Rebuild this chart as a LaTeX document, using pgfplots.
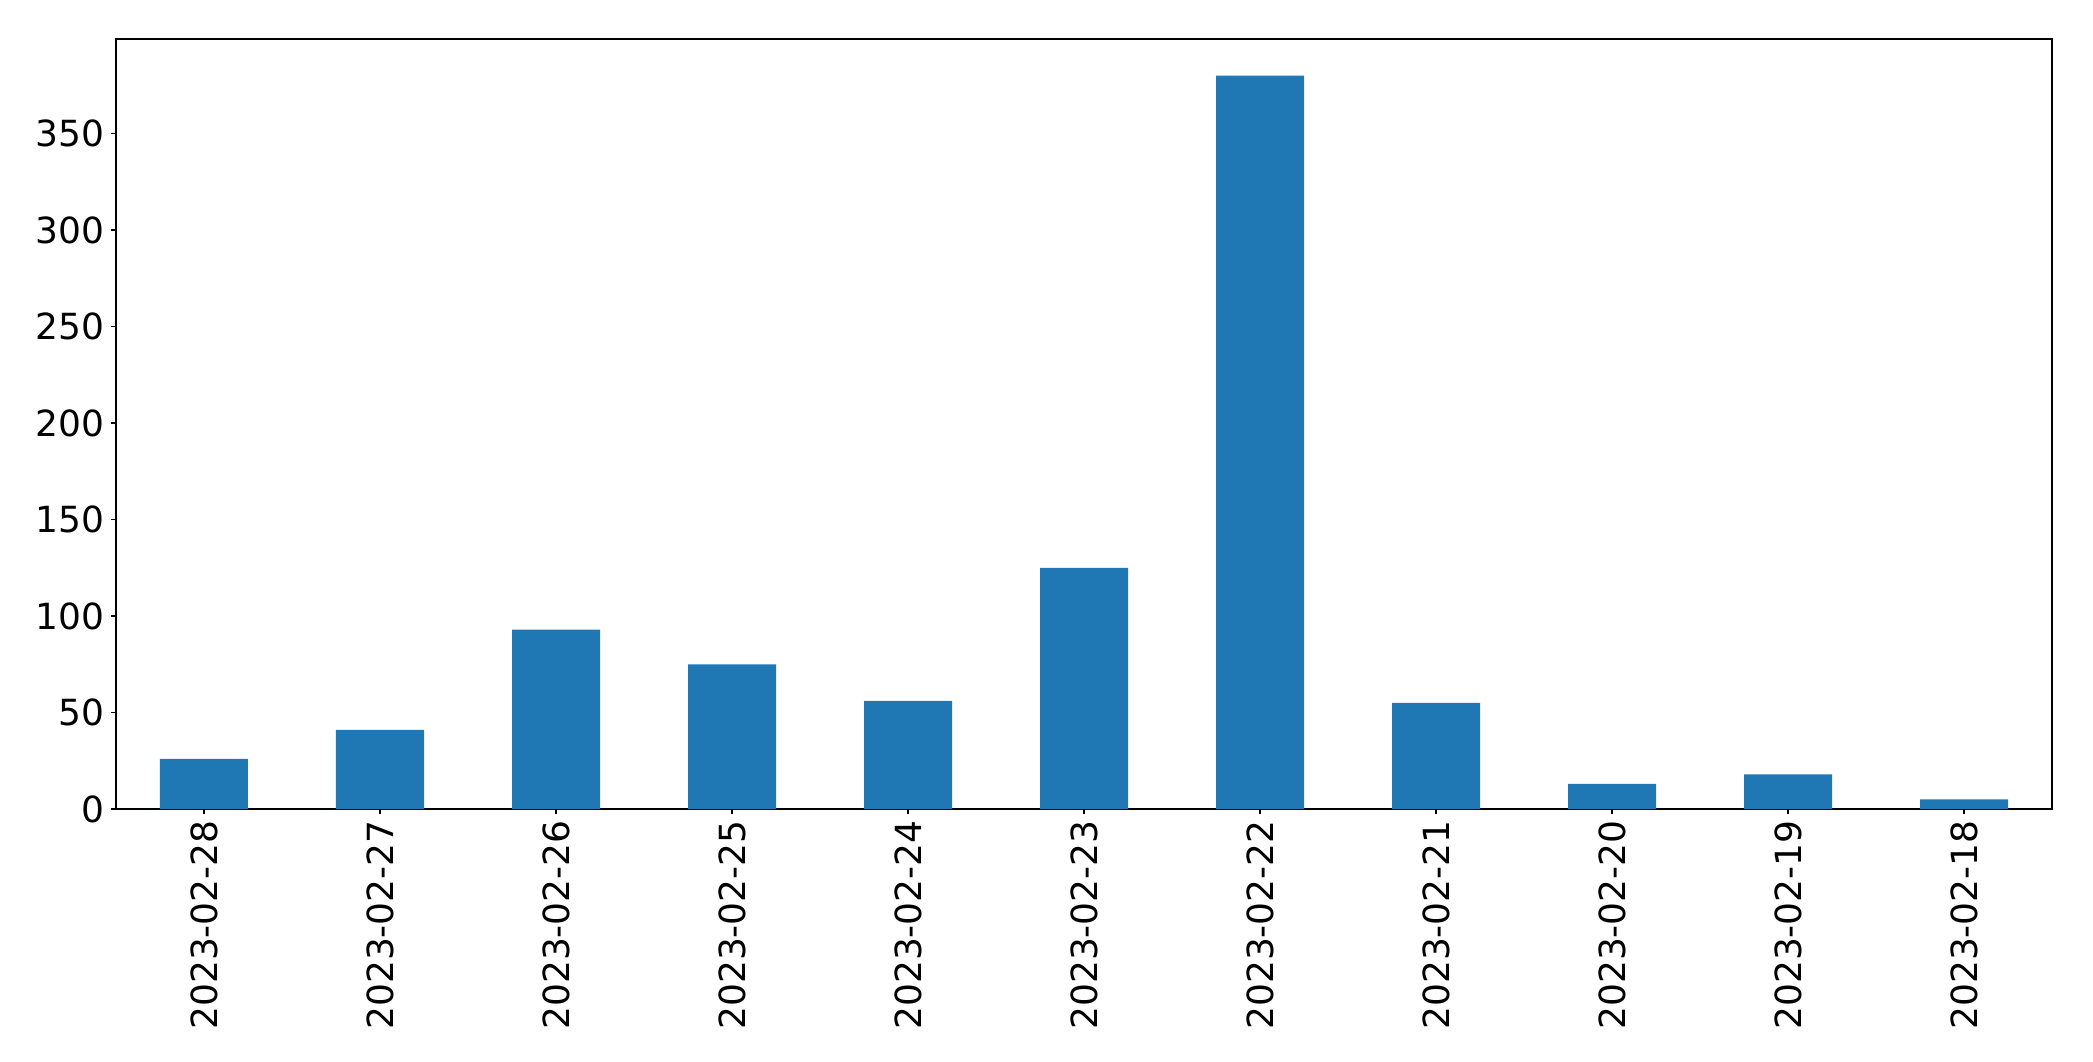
\documentclass[border=0pt]{standalone}
\usepackage{fontspec}
\setmainfont{DejaVu Sans}
\usepackage{pgfplots}
\pgfplotsset{compat=1.18}
\usetikzlibrary{calc}
\definecolor{mplblue}{HTML}{1F77B4}
\begin{document}
\begin{tikzpicture}
\begin{axis}[
  name=ax,
  scale only axis=true,
  width=968pt, height=385pt,
  xmin=-0.5, xmax=10.5,
  ymin=0, ymax=399,
  xtick={0,1,2,3,4,5,6,7,8,9,10},
  xticklabels={2023-02-28,2023-02-27,2023-02-26,2023-02-25,2023-02-24,2023-02-23,2023-02-22,2023-02-21,2023-02-20,2023-02-19,2023-02-18},
  ytick={0,50,100,150,200,250,300,350},
  xtick pos=left, ytick pos=left,
  tick align=outside,
  major tick length=2.5pt,
  every tick/.style={black, line width=0.6pt},
  axis line style={line width=0.6pt},
  /pgf/number format/assume math mode=true,
  tick label style={font=\fontsize{18}{21.6}\selectfont},
  xticklabel style={rotate=90, anchor=east, inner sep=3pt},
  yticklabel style={inner sep=3pt},
  ybar, bar width=0.5, bar shift=0pt,
]
\addplot[fill=mplblue, draw=none] coordinates {
  (0,26) (1,41) (2,93) (3,75) (4,56) (5,125) (6,380) (7,55) (8,13) (9,18) (10,5)
};
\end{axis}
\pgfresetboundingbox
\path ($(ax.south west)+(-58pt,-126pt)$) rectangle ($(ax.north east)+(20.5pt,19.5pt)$);
\end{tikzpicture}
\end{document}
